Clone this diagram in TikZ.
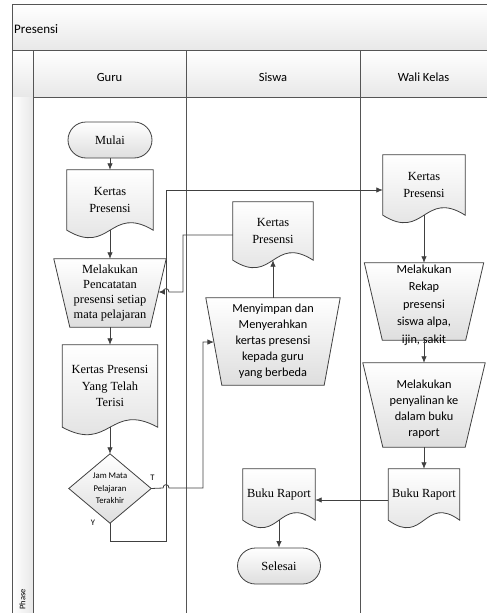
\documentclass[tikz,border=0pt]{standalone}
\usepackage{fontspec}
\setmainfont{Liberation Serif}
\newfontfamily\calfont{Carlito}
\usetikzlibrary{arrows.meta,calc}
\pgfdeclarelayer{bg}
\pgfsetlayers{bg,main}
\definecolor{linegray}{RGB}{64,64,64}
\definecolor{lanegray}{RGB}{85,85,85}
\definecolor{fillgray}{RGB}{222,222,222}
\definecolor{hdrgray}{RGB}{232,232,232}
\tikzset{
  shp/.style={inner sep=0pt, align=center},
  serif/.style={font=\fontsize{12.4}{16.5}\selectfont},
  serift/.style={font=\fontsize{12.4}{15}\selectfont},
  sans/.style={font=\calfont\fontsize{12.3}{16}\selectfont},
  outl/.style={draw=linegray, line width=0.8pt, top color=white, bottom color=fillgray},
  flow/.style={draw=linegray, line width=0.8pt, -{Latex[length=6.5pt,width=5.5pt]}},
  lane/.style={draw=lanegray, line width=0.9pt},
  hdr/.style={font=\calfont\fontsize{12.5}{15}\selectfont, inner sep=0pt},
}
\newcommand{\DocOutline}[1]{\path[outl] (#1.north west) -- (#1.north east) -- (#1.south east) .. controls ($(#1.south)+(0,-26)$) and ($(#1.south)+(0,26)$) .. (#1.south west) -- cycle;}
\newcommand{\TrapOutline}[2]{%
  \coordinate (#1-br) at ([xshift=-#2pt]#1.south east);
  \coordinate (#1-bl) at ([xshift=#2pt]#1.south west);
  \path[outl] (#1.north west) -- (#1.north east) -- (#1-br) -- (#1-bl) -- cycle;}
\newcommand{\DiaOutline}[1]{\path[outl] (#1.north) -- (#1.east) -- (#1.south) -- (#1.west) -- cycle;}
\begin{document}
\begin{tikzpicture}[x=1pt,y=-1pt]
\useasboundingbox (0,0) rectangle (487,613);
% pool
\begin{pgfonlayer}{bg}
\shade[top color=white, bottom color=hdrgray] (12.5,4) rectangle (495,50.5);
\shade[top color=white, bottom color=hdrgray] (12.5,50.5) rectangle (495,97);
\shade[left color=white, right color=hdrgray] (12.5,97) rectangle (33,620);
\draw[lane] (495,4) -- (12.5,4) -- (12.5,620);
\draw[lane] (12.5,50.5) -- (495,50.5);
\draw[lane] (33,50.5) -- (33,620);
\draw[lane] (33,97) -- (495,97);
\draw[lane] (186,50.5) -- (186,620);
\draw[lane] (360,50.5) -- (360,620);
\end{pgfonlayer}
\node[anchor=west, font=\calfont\fontsize{13}{15}\selectfont, inner sep=0pt] (title) at (14,29) {Presensi};
\node[hdr] (hg) at (109.5,77) {Guru};
\node[hdr] (hs) at (273,77) {Siswa};
\node[hdr] (hw) at (423.5,77) {Wali Kelas};
\node[rotate=90, anchor=west, font=\calfont\fontsize{8.5}{10}\selectfont, inner sep=0pt] (ph) at (22.5,610) {Phase};

% Guru lane
\node[shp, serif, minimum width=84pt, minimum height=36pt, rounded corners=18pt, outl] (mulai) at (110,140) {Mulai};
\node[shp, serif, minimum width=86pt, minimum height=60pt] (k1) at (110,200) {Kertas\\Presensi};
\begin{pgfonlayer}{bg}\DocOutline{k1}\end{pgfonlayer}
\node[shp, serift, minimum width=112pt, minimum height=68pt] (gt) at (110,293) {Melakukan\\Pencatatan\\presensi setiap\\mata pelajaran};
\begin{pgfonlayer}{bg}\TrapOutline{gt}{16}\end{pgfonlayer}
\node[shp, serif, minimum width=95pt, minimum height=82pt] (k2) at (110,386) {Kertas Presensi\\Yang Telah\\Terisi};
\begin{pgfonlayer}{bg}\DocOutline{k2}\end{pgfonlayer}
\node[shp, font=\calfont\fontsize{8.7}{12.5}\selectfont, minimum width=82pt, minimum height=69pt] (dia) at (110,488.5) {Jam Mata\\Pelajaran\\Terakhir};
\begin{pgfonlayer}{bg}\DiaOutline{dia}\end{pgfonlayer}
\node[font=\calfont\fontsize{8.5}{9}\selectfont, inner sep=0pt] (lt) at (152.5,478) {T};
\node[font=\calfont\fontsize{8.5}{9}\selectfont, inner sep=0pt] (ly) at (93,523) {Y};

% Siswa lane
\node[shp, serif, minimum width=80pt, minimum height=58pt] (sk) at (273,231) {Kertas\\Presensi};
\begin{pgfonlayer}{bg}\DocOutline{sk}\end{pgfonlayer}
\node[shp, sans, minimum width=134pt, minimum height=87pt] (ms) at (273,341.5) {Menyimpan dan\\Menyerahkan\\kertas presensi\\kepada guru\\yang berbeda};
\begin{pgfonlayer}{bg}\TrapOutline{ms}{16}\end{pgfonlayer}
\node[shp, serif, minimum width=72pt, minimum height=51pt] (sb) at (279,494.5) {Buku Raport};
\begin{pgfonlayer}{bg}\DocOutline{sb}\end{pgfonlayer}
\node[shp, serif, minimum width=83pt, minimum height=36pt, rounded corners=18pt, outl] (sel) at (279,566) {Selesai};

% Wali Kelas lane
\node[shp, serif, minimum width=82pt, minimum height=60pt] (wk) at (424,185) {Kertas\\Presensi};
\begin{pgfonlayer}{bg}\DocOutline{wk}\end{pgfonlayer}
\node[shp, minimum width=119pt, minimum height=77pt] (wr) at (424,301.5) {};
\begin{pgfonlayer}{bg}\TrapOutline{wr}{18}\end{pgfonlayer}
\node[shp, font=\calfont\fontsize{12.3}{17.5}\selectfont] (wrt) at (424,305) {Melakukan\\Rekap\\presensi\\siswa alpa,\\ijin, sakit};
\node[shp, minimum width=122pt, minimum height=84pt] (wp) at (424,405) {};
\begin{pgfonlayer}{bg}\TrapOutline{wp}{20}\end{pgfonlayer}
\node[shp, sans] (wpt) at (424,409) {Melakukan\\penyalinan ke\\dalam buku\\raport};
\node[shp, serif, minimum width=71pt, minimum height=51pt] (wb) at (424,494.5) {Buku Raport};
\begin{pgfonlayer}{bg}\DocOutline{wb}\end{pgfonlayer}

% connectors
\draw[flow] (mulai.south) -- (k1.north);
\draw[flow] (k1.south) -- (gt.north);
\draw[flow] (gt.south) -- (k2.north);
\draw[flow] (k2.south) -- (dia.north);
\coordinate (yc1) at (110,541);
\coordinate (yc2) at (166,541);
\coordinate (yc3) at (166,190);
\draw[flow] (dia.south) -- (yc1) -- (yc2) -- (yc3) -- (wk.west |- yc3);
\coordinate (tc1) at (203,488);
\coordinate (tc2) at (203,342);
\draw[flow] (dia.east) -- (163,488) .. controls (163,483.5) and (169,483.5) .. (169,488) -- (tc1) -- (tc2) -- ($(ms.north west)!0.506!(ms-bl)$);
\coordinate (sc1) at (183,235);
\coordinate (sc2) at (183,292);
\draw[flow] (sk.west |- sc1) -- (sc1) -- (sc2) -- (169,292) .. controls (169,287.5) and (163,287.5) .. (163,292) -- ($(gt.north east)!0.485!(gt-br)$);
\draw[flow] (ms.north) -- (sk.south);
\draw[flow] (wk.south) -- (wr.north);
\draw[flow] (wr.south) -- (wp.north);
\draw[flow] (wp.south) -- (wb.north);
\draw[flow] ($(wb.west)+(0,5.5)$) -- ($(sb.east)+(0,5.5)$);
\draw[flow] (sb.south) -- (sel.north);
\end{tikzpicture}
\end{document}
